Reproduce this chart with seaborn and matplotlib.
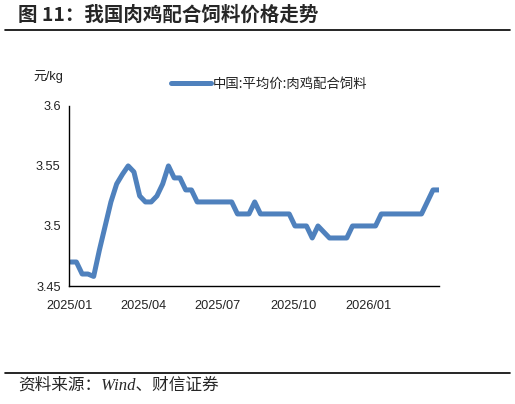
import pandas as pd
import matplotlib
matplotlib.use("Agg")
import matplotlib.pyplot as plt
import matplotlib.dates as mdates
from matplotlib.lines import Line2D
import seaborn as sns

# weekly average price of broiler compound feed (yuan/kg)
start_date = "2025-01-03"
prices = [
    3.47, 3.47, 3.46, 3.46, 3.458, 3.48, 3.50, 3.52, 3.535, 3.543,
    3.55, 3.545, 3.525, 3.52, 3.52, 3.525, 3.535, 3.55, 3.54, 3.54,
    3.53, 3.53, 3.52, 3.52, 3.52, 3.52, 3.52, 3.52, 3.52, 3.51,
    3.51, 3.51, 3.52, 3.51, 3.51, 3.51, 3.51, 3.51, 3.51, 3.50,
    3.50, 3.50, 3.49, 3.50, 3.495, 3.49, 3.49, 3.49, 3.49, 3.50,
    3.50, 3.50, 3.50, 3.50, 3.51, 3.51, 3.51, 3.51, 3.51, 3.51,
    3.51, 3.51, 3.52, 3.53, 3.53,
]
dates = pd.date_range(start_date, periods=len(prices), freq="7D")

series_name = "中国:平均价:肉鸡配合饲料"
title = "图 11：我国肉鸡配合饲料价格走势"
source = "资料来源：Wind、财信证券"
unit = "元/kg"
yticks = [3.45, 3.5, 3.55, 3.6]
ytick_labels = ["3.45", "3.5", "3.55", "3.6"]

sns.set_style("white")
plt.rcParams["font.family"] = ["Liberation Sans", "Noto Sans CJK SC", "DejaVu Sans"]

fig = plt.figure(figsize=(5.15, 4.04), dpi=100)
ax = fig.add_axes([0.134, 0.292, 0.718, 0.446])

df = pd.DataFrame({"date": dates, "price": prices})
sns.lineplot(data=df, x="date", y="price", ax=ax, color="#4F81BD",
             linewidth=3.6, label=series_name, solid_joinstyle="round",
             solid_capstyle="round")

ax.set_ylim(3.45, 3.6)
ax.set_yticks(yticks)
ax.set_yticklabels(ytick_labels)
ax.set_xlim(pd.Timestamp("2025-01-01"), pd.Timestamp("2026-03-27"))
ax.xaxis.set_major_locator(mdates.MonthLocator(bymonth=[1, 4, 7, 10]))
ax.xaxis.set_major_formatter(mdates.DateFormatter("%Y/%m"))
ax.set_xlabel("")
ax.set_ylabel("")

for side in ["top", "right"]:
    ax.spines[side].set_visible(False)
for side in ["left", "bottom"]:
    ax.spines[side].set_color("black")
    ax.spines[side].set_linewidth(1.0)
ax.tick_params(axis="both", direction="in", length=3, width=1, color="black",
               labelsize=9.2, labelcolor="#222222")
ax.tick_params(axis="x", pad=10)
ax.tick_params(axis="y", pad=6)

leg = ax.legend(loc="upper left", bbox_to_anchor=(0.262, 1.19), frameon=False,
                prop={"family": ["Noto Sans CJK SC"], "size": 9.6},
                handlelength=3.0, handletextpad=0.1, borderaxespad=0)
for t in leg.get_texts():
    t.set_color("#222222")

fig.text(0.064, 0.81, unit, fontsize=9.2, ha="left", va="center",
         family=["Liberation Sans", "Noto Sans CJK SC"], color="#222222")

fig.text(0.035, 0.962, title, fontsize=14, fontweight="bold", ha="left",
         va="center", family=["Noto Sans CJK SC", "DejaVu Sans"])
fig.add_artist(Line2D([0.01, 0.99], [0.926, 0.926], color="black", lw=1.2,
                      transform=fig.transFigure))

fig.add_artist(Line2D([0.01, 0.99], [0.077, 0.077], color="black", lw=1.2,
                      transform=fig.transFigure))
fig.text(0.035, 0.045, source, fontsize=12, style="italic", ha="left",
         va="center", family=["Liberation Serif", "Noto Sans CJK SC"])

fig.savefig("out.png", dpi=100)
